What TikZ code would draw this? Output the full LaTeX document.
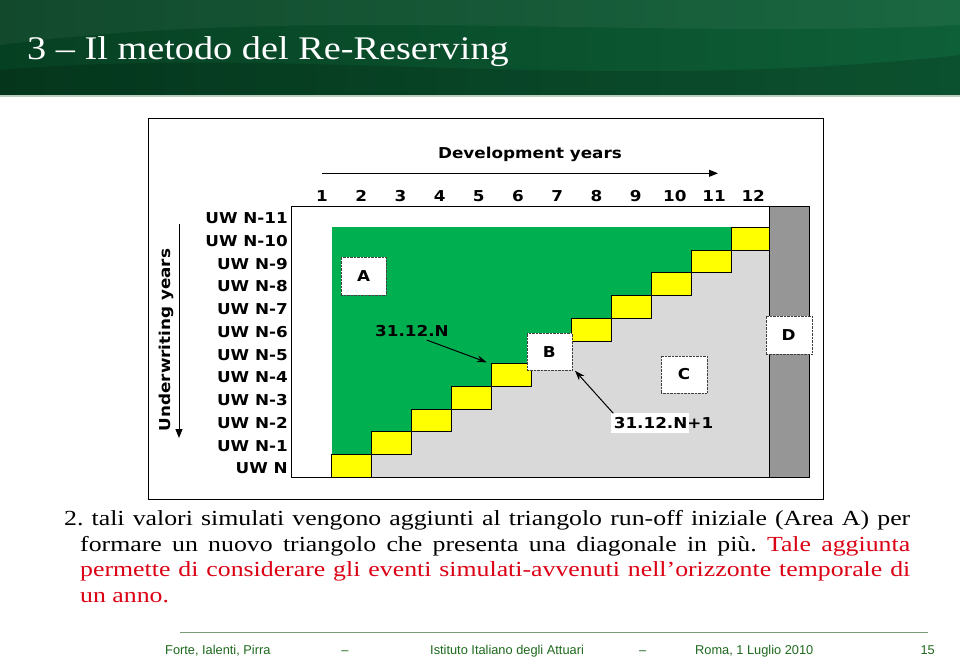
\documentclass[tikz,border=0pt]{standalone}
\usepackage{fontspec}
\setmainfont{Liberation Serif}
\newfontfamily\vfont[FakeStretch=1.12]{DejaVu Sans}
\newfontfamily\bodyfont[FakeStretch=1.2]{Liberation Serif}
\newfontfamily\titlefont[FakeStretch=1.16]{Liberation Serif}
\newfontfamily\footfont{Liberation Sans}
\usetikzlibrary{arrows.meta}
\definecolor{xlgreen}{RGB}{0,176,80}
\definecolor{xlyellow}{RGB}{255,255,0}
\definecolor{xlgray}{RGB}{217,217,217}
\definecolor{xldark}{RGB}{150,150,150}
\definecolor{bodyred}{RGB}{220,0,20}
\definecolor{footgreen}{RGB}{30,105,30}
\definecolor{footline}{RGB}{120,155,120}
\definecolor{barA}{RGB}{6,64,34}
\definecolor{barB}{RGB}{14,96,56}
\definecolor{barline}{RGB}{185,205,190}
\tikzset{
  txt/.style={font=\vfont\bfseries\fontsize{15}{15}\selectfont, inner sep=0pt, text height=10.9pt, text depth=0pt},
  lbl/.style={txt, draw=black!75, densely dotted, fill=white, inner sep=0pt},
  arr/.style={draw=black, line width=1pt, -{Stealth[length=10pt,width=7pt]}},
  devarr/.style={draw=black, line width=1pt, -{Triangle[length=9pt,width=7pt]}},
  cell/.style={fill=xlyellow, draw=black, line width=0.8pt},
  foot/.style={font=\footfont\fontsize{12.8}{13}\selectfont, text=footgreen, inner sep=0pt}
}
\begin{document}
\begin{tikzpicture}[x=1pt,y=-1pt]
\useasboundingbox (0,0) rectangle (960,659);
\fill[white] (0,0) rectangle (960,659);
% title bar
\shade[left color=barA, right color=barB] (0,0) rectangle (960,95);
\fill[white, opacity=0.05] (0,0) -- (960,0) -- (960,25) .. controls (650,40) and (300,5) .. (0,45) -- cycle;
\fill[black, opacity=0.15] (0,70) .. controls (300,45) and (600,95) .. (960,55) -- (960,95) -- (0,95) -- cycle;
\draw[barline, line width=1.5pt] (0,95.8) -- (960,95.8);
\node[anchor=base west, text=white, font=\titlefont\fontsize{33}{33}\selectfont, inner sep=0pt] (title) at (27,59.5) {3 – Il metodo del Re-Reserving};
% main frame
\draw[black, line width=0.8pt] (148,118) rectangle (823,499);
\node[txt] (dev) at (530,153) {Development years};
\coordinate (devS) at (322,173.3);
\coordinate (devE) at (718,173.3);
\draw[devarr] (devS) -- (devE);
\foreach \k in {1,...,12} \node[txt] (n\k) at ({322+39.2*(\k-1)},196.3) {\k};
% grid
\fill[white] (291.7,206) rectangle (769.3,477.3);
\fill[xlgreen] (331.7,227.3) rectangle (769.3,477.3);
\foreach \i in {1,...,10} \fill[xlgray] ({331.7+40*\i},{477.3-22.727*\i}) rectangle ({371.7+40*\i},477.3);
\foreach \i in {0,...,10} \draw[cell] ({331.7+40*\i},{477.3-22.727*(\i+1)}) rectangle ++(40,22.727);
\draw[black, line width=0.8pt] (291.7,206) rectangle (809.3,477.3);
\filldraw[fill=xldark, draw=black, line width=0.8pt] (769.3,206) rectangle (809.3,477.3);
% row labels
\foreach \j/\t in {0/N-11,1/N-10,2/N-9,3/N-8,4/N-7,5/N-6,6/N-5,7/N-4,8/N-3,9/N-2,10/N-1,11/N}
  \node[txt, anchor=east] (uw\j) at (288,{218.3+22.727*\j}) {UW \t};
\node[txt, rotate=90] (uwy) at (165,340) {Underwriting years};
\coordinate (uwS) at (179,224);
\coordinate (uwE) at (179,438);
\draw[devarr] (uwS) -- (uwE);
% labels
\node[lbl, minimum width=45pt, minimum height=38pt] (A) at (363.5,276) {A};
\node[lbl, minimum width=45pt, minimum height=37pt] (B) at (549.2,351.7) {B};
\node[lbl, minimum width=45.5pt, minimum height=37.5pt] (C) at (684,374.5) {C};
\node[lbl, minimum width=46pt, minimum height=38.5pt] (D) at (788.7,335) {D};
% dates
\node[txt] (dN) at (411.9,330.7) {31.12.N};
\coordinate (sN) at (426.7,340);
\coordinate (tN) at (486.7,362.3);
\draw[arr] (sN) -- (tN);
\fill[white] (611,413) rectangle (689,433);
\node[txt] (dN1) at (663.5,423) {31.12.N+1};
\coordinate (sN1) at (613.3,413.3);
\coordinate (tN1) at (575,370.7);
\draw[arr] (sN1) -- (tN1);
% body text
\node[anchor=north west, inner sep=0pt, text width=846pt, align=justify,
      font=\bodyfont\fontsize{21.5}{25.7}\selectfont\frenchspacing] (body) at (64,510)
 {2.\hangindent=16pt\hangafter=1\relax\ tali valori simulati vengono aggiunti al triangolo run-off iniziale (Area A) per\linebreak
 formare un nuovo triangolo che presenta una diagonale in più. \textcolor{bodyred}{Tale aggiunta\linebreak
 permette di considerare gli eventi simulati-avvenuti nell’orizzonte temporale di\linebreak
 un anno.}\par};
% footer
\coordinate (fl1) at (180,632.5);
\coordinate (fl2) at (928,632.5);
\draw[footline, line width=1.2pt] (fl1) -- (fl2);
\node[foot, anchor=base west] (f1) at (165,654) {Forte, Ialenti, Pirra};
\node[foot, anchor=base] (f2) at (345,654) {–};
\node[foot, anchor=base west] (f3) at (430,654) {Istituto Italiano degli Attuari};
\node[foot, anchor=base] (f4) at (642.7,654) {–};
\node[foot, anchor=base west] (f5) at (695,654) {Roma, 1 Luglio 2010};
\node[foot, anchor=base east] (f6) at (935,654) {15};
\end{tikzpicture}
\end{document}
